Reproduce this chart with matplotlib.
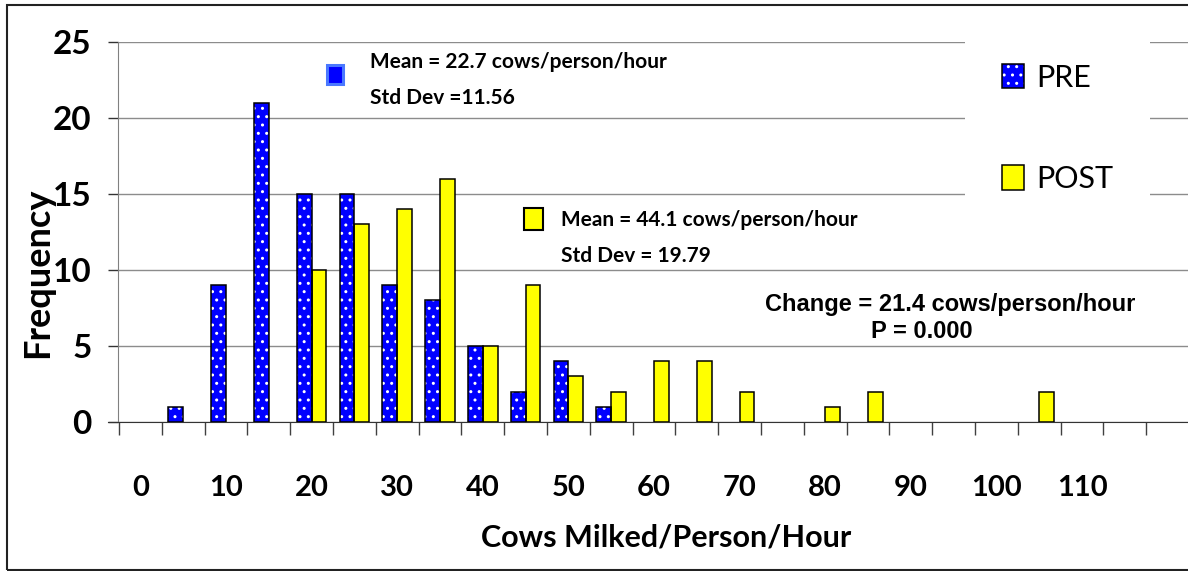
import numpy as np
import matplotlib
matplotlib.use('Agg')
import matplotlib.pyplot as plt
from matplotlib.patches import Patch, Rectangle

# Histogram bins (cows milked / person / hour), 5-unit classes
bins = [0, 5, 10, 15, 20, 25, 30, 35, 40, 45, 50, 55,
        60, 65, 70, 75, 80, 85, 90, 95, 100, 105, 110, 115]
pre_counts = [0, 1, 9, 21, 15, 15, 9, 8, 5, 2, 4, 1,
              0, 0, 0, 0, 0, 0, 0, 0, 0, 0, 0, 0]
post_counts = [0, 0, 0, 0, 10, 13, 14, 16, 5, 9, 3, 2,
               4, 4, 2, 0, 1, 2, 0, 0, 0, 2, 0, 0]
tick_labels = ['0', '10', '20', '30', '40', '50', '60', '70', '80', '90', '100', '110']
y_ticks = [0, 5, 10, 15, 20, 25]

FONT = 'Lato'
BLUE = '#0000FF'
YELLOW = '#FFFF00'

W, H = 1188, 571
fig = plt.figure(figsize=(W / 100, H / 100), dpi=100)

# plot area: y axis at x=118px, x axis at y=422px, runs off the right edge
cat_px = 42.8
ax_left, ax_right = 118, 1200
ax = fig.add_axes([ax_left / W, 1 - 422 / H, (ax_right - ax_left) / W, 380 / H])
x0 = -0.5 - 1 / cat_px
ax.set_xlim(x0, x0 + (ax_right - ax_left) / cat_px)
ax.set_ylim(0, 25)

idx = np.arange(len(bins))
pre = np.array(pre_counts)
post = np.array(post_counts)
bw = 0.345

m = pre > 0
ax.bar(idx[m], pre[m], width=-bw, align='edge', color=BLUE,
       edgecolor='white', hatch='..', linewidth=0, zorder=3)
ax.bar(idx[m], pre[m], width=-bw, align='edge', facecolor='none',
       edgecolor='black', linewidth=1.1, zorder=4)
m = post > 0
ax.bar(idx[m], post[m], width=bw, align='edge', color=YELLOW,
       edgecolor='black', linewidth=1.1, zorder=3)

# axes styling
ax.set_yticks(y_ticks)
ax.set_yticklabels([str(v) for v in y_ticks], fontfamily=FONT,
                   fontweight='bold', fontsize=24)
ax.yaxis.grid(True, color='#8c8c8c', linewidth=1.0, zorder=0)
ax.set_axisbelow(True)
ax.tick_params(axis='y', length=7, width=1, color='#333333', pad=12)

ax.set_xticks(np.arange(len(bins) + 1) - 0.5)
ax.set_xticklabels([])
ax.tick_params(axis='x', which='major', length=9.5, width=1, color='#404040')
ax.set_xticks(np.arange(0, len(tick_labels) * 2, 2), minor=True)
ax.set_xticklabels(tick_labels, minor=True, fontfamily=FONT,
                   fontweight='bold', fontsize=21)
ax.tick_params(axis='x', which='minor', length=0, pad=38)

for s in ['top', 'right']:
    ax.spines[s].set_visible(False)
ax.spines['left'].set_color('#808080')
ax.spines['bottom'].set_color('#333333')
ax.spines['bottom'].set_bounds(x0 - 10 / cat_px, x0 + 2000)

ax.set_xlabel('Cows Milked/Person/Hour', fontfamily=FONT, fontweight='bold',
              fontsize=22, labelpad=10)
ax.xaxis.set_label_coords((666 - ax_left) / (ax_right - ax_left), (422 - 537) / 380)
ax.xaxis.label.set_va('center')
ax.set_ylabel('Frequency', fontfamily=FONT, fontweight='bold', fontsize=26)
ax.yaxis.set_label_coords((54 - ax_left) / (ax_right - ax_left), (422 - 273) / 380)


def px(x, y):
    """pixel position -> data coordinates"""
    return x0 + (x - ax_left) / cat_px, (422 - y) / 15.2


txt = dict(fontfamily=FONT, fontweight='bold', fontsize=15, va='center', ha='left')
ax.text(*px(370, 62), 'Mean = 22.7 cows/person/hour', **txt)
ax.text(*px(370, 98), 'Std Dev =11.56', **txt)
ax.text(*px(561, 220), 'Mean = 44.1 cows/person/hour', **txt)
ax.text(*px(561, 256), 'Std Dev = 19.79', **txt)

arial = dict(fontfamily='Liberation Sans', fontweight='bold', fontsize=17,
             va='center', ha='center')
ax.text(*px(950, 305), 'Change = 21.4 cows/person/hour', **arial)
ax.text(*px(922, 332), 'P = 0.000', **arial)

# small key squares beside the mean annotations
bx, by = px(327, 84)
ax.add_patch(Rectangle((bx, by), 16 / cat_px, 19 / 15.2, facecolor=BLUE,
                       edgecolor='#4a78ff', linewidth=2.2, zorder=5, clip_on=False))
yx, yy = px(524, 230)
ax.add_patch(Rectangle((yx, yy), 19 / cat_px, 22 / 15.2, facecolor=YELLOW,
                       edgecolor='black', linewidth=1.5, zorder=5, clip_on=False))

# legend
handles = [(Patch(facecolor=BLUE, edgecolor='white', hatch='..', linewidth=0),
            Patch(facecolor='none', edgecolor='black', linewidth=1.1)),
           Patch(facecolor=YELLOW, edgecolor='black', linewidth=1.1)]
leg = ax.legend(handles, ['PRE', 'POST'], loc='upper left',
                bbox_to_anchor=(965 / W, 1 - 27 / H), bbox_transform=fig.transFigure,
                prop={'family': FONT, 'size': 22}, frameon=True, fancybox=False,
                facecolor='white', edgecolor='none', framealpha=1,
                borderpad=1.2, borderaxespad=0, handlelength=0.72,
                handleheight=0.85, handletextpad=0.4, labelspacing=2.4)
leg.set_zorder(6)

# outer chart border
fig.patches.append(Rectangle((7 / W, 1.5 / H), 1.2, (569 - 4) / H, transform=fig.transFigure,
                             fill=False, edgecolor='#222222', linewidth=1.5))

fig.savefig('out.png', dpi=100)
